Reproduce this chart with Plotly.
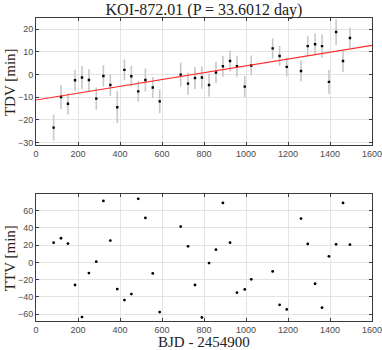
import plotly.graph_objs as go
from plotly.subplots import make_subplots

# transit epochs (BJD - 2454900)
bjd = [84, 119, 152, 186, 219, 252, 287, 321, 354, 387, 421, 454, 487, 521, 556, 589,
       689, 724, 757, 790, 824, 857, 890, 924, 957, 994, 1025,
       1127, 1160, 1194, 1262, 1294, 1329, 1362, 1395, 1429, 1462, 1495]

tdv = [-23.4, -9.9, -12.9, -2.5, -1.3, -2.4, -10.6, -0.6, -4.6, -14.4, 2.1, -0.7, -7.4, -2.4, -5.7, -11.8,
       0.0, -4.0, -1.5, -1.3, -4.6, 0.9, 3.7, 6.0, 3.7, -5.3, 4.0,
       11.6, 8.2, 3.4, 1.6, 12.6, 13.4, 12.6, -3.2, 18.8, 6.0, 16.2]

tdv_err = [5.7, 5.3, 4.7, 4.6, 5.1, 4.8, 4.9, 4.7, 4.8, 7.1, 4.6, 4.6, 4.6, 5.1, 4.6, 5.3,
           5.3, 4.9, 4.9, 4.9, 5.1, 4.7, 4.6, 4.6, 4.6, 4.7, 4.4,
           4.5, 4.4, 4.2, 4.6, 4.6, 4.8, 5.1, 5.2, 5.7, 4.8, 4.6]

ttv = [22.8, 27.9, 21.7, -26.3, -63.5, -12.4, 0.8, 71.2, 25.2, -31.0, -43.7, -36.8, 73.6, 51.5, -12.8, -57.7,
       41.4, 18.6, -26.3, -63.9, -0.8, 14.7, 68.9, 22.8, -35.2, -31.4, -19.7,
       -10.5, -49.2, -54.6, 50.7, 21.3, -24.8, -52.6, 7.0, 20.9, 68.9, 20.5]

# linear fit to TDV
fit_x = [0, 1600]
fit_y = [-11.2, 12.9]

fig = make_subplots(rows=2, cols=1, vertical_spacing=0.163)

fig.add_trace(go.Scatter(x=bjd, y=tdv, mode='markers',
                         marker=dict(symbol='square', size=2.4, color='black', line=dict(width=0)),
                         error_y=dict(type='data', array=tdv_err, color='#c8c8c8',
                                      thickness=1.6, width=0)), row=1, col=1)
fig.add_trace(go.Scatter(x=fit_x, y=fit_y, mode='lines',
                         line=dict(color='#ff2a2a', width=1.1)), row=1, col=1)
fig.add_trace(go.Scatter(x=bjd, y=ttv, mode='markers',
                         marker=dict(symbol='circle', size=2.8, color='black', line=dict(width=0))),
              row=2, col=1)

axis_style = dict(showline=True, linecolor='#3c3c3c', linewidth=1, mirror='ticks',
                  ticks='inside', ticklen=3, tickcolor='#3c3c3c', automargin=False,
                  showgrid=True, gridcolor='#e4e4e4', gridwidth=1, zeroline=False,
                  ticklabeloverflow='allow',
                  tickfont=dict(family='Liberation Sans', size=9, color='#4a4a4a'))

fig.update_xaxes(range=[0, 1600], tickvals=list(range(0, 1601, 200)), **axis_style)
fig.update_yaxes(**axis_style)
fig.update_yaxes(range=[-31, 25], tickvals=[-30, -20, -10, 0, 10, 20], row=1, col=1)
fig.update_yaxes(range=[-68, 79], tickvals=[-60, -40, -20, 0, 20, 40, 60], row=2, col=1)

label_font = dict(family='Liberation Serif', size=15, color='#222')
fig.add_annotation(text='TDV [min]', xref='paper', yref='paper', x=-0.079, y=0.79,
                   xanchor='center', yanchor='middle',
                   textangle=-90, showarrow=False, font=label_font)
fig.add_annotation(text='TTV [min]', xref='paper', yref='paper', x=-0.079, y=0.209,
                   xanchor='center', yanchor='middle',
                   textangle=-90, showarrow=False, font=label_font)
fig.add_annotation(text='BJD - 2454900', xref='paper', yref='paper', x=0.5, y=-0.07,
                   xanchor='center', yanchor='middle',
                   showarrow=False, font=label_font)

fig.update_layout(
    width=382, height=350,
    margin=dict(l=36, r=10, t=18, b=29),
    paper_bgcolor='white', plot_bgcolor='white',
    showlegend=False,
    title=dict(text='KOI-872.01 (P = 33.6012 day)', x=0.5, xref='paper', xanchor='center',
               y=1 - 9 / 350, yanchor='middle',
               font=dict(family='Liberation Serif', size=16, color='#222')),
)

# page body has a default 8px margin; drop it so the figure sits at the window corner
fig.write_html('out.html', config={'displayModeBar': False},
               post_script="document.body.style.margin = '0';")
